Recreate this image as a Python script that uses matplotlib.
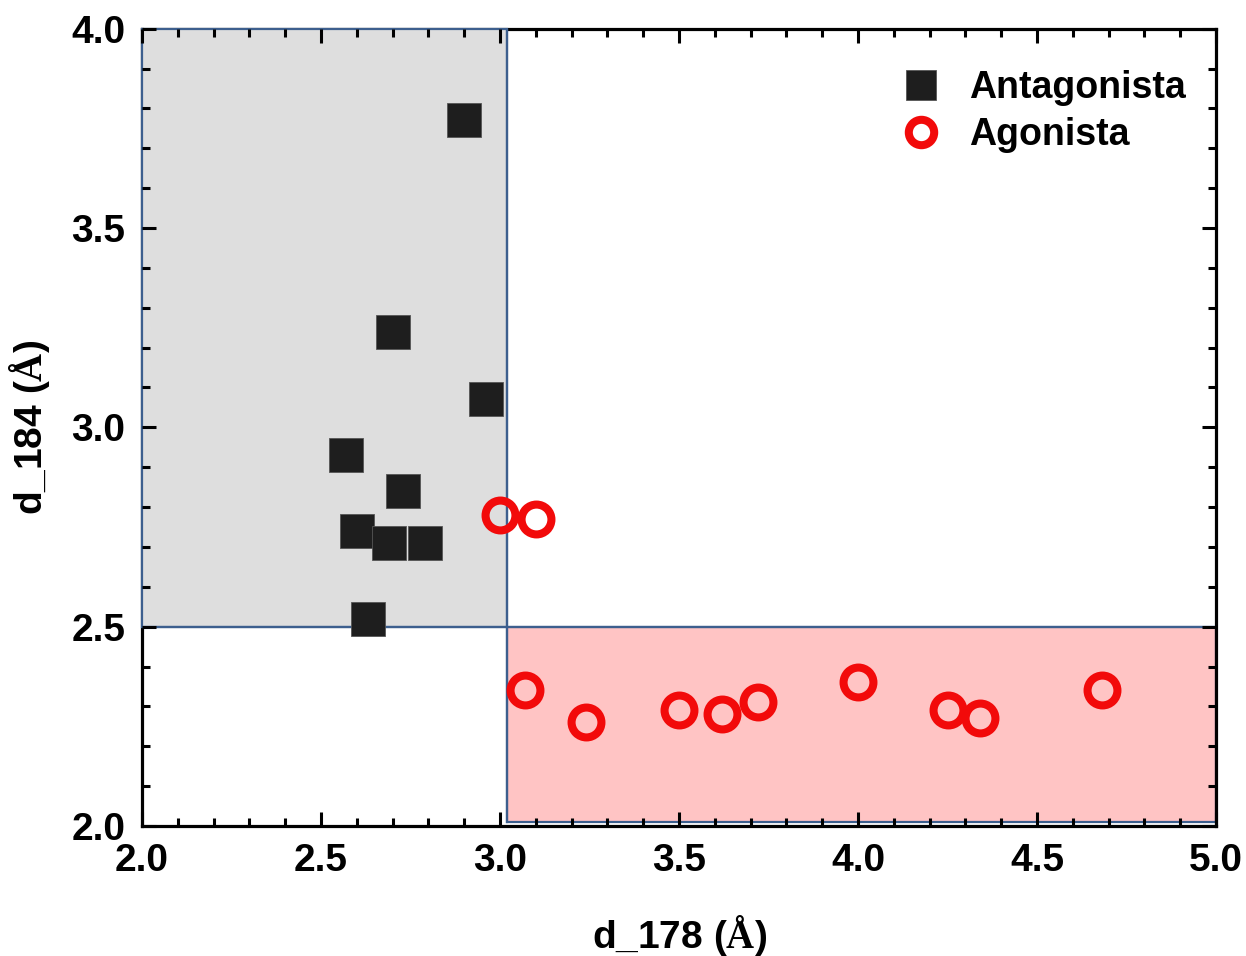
import matplotlib
matplotlib.use("Agg")
import matplotlib.pyplot as plt
from matplotlib.patches import Rectangle
from matplotlib.ticker import MultipleLocator

plt.rcParams['font.family'] = ['Liberation Sans', 'DejaVu Sans']
plt.rcParams['font.weight'] = 'bold'
plt.rcParams['mathtext.fontset'] = 'custom'
plt.rcParams['mathtext.bf'] = 'Liberation Serif:bold'
plt.rcParams['mathtext.rm'] = 'Liberation Serif'

# Antagonist ligands: distances d_178 and d_184 (Å)
antag_d178 = [2.90, 2.70, 2.96, 2.57, 2.73, 2.60, 2.69, 2.79, 2.63]
antag_d184 = [3.77, 3.24, 3.07, 2.93, 2.84, 2.74, 2.71, 2.71, 2.52]

# Agonist ligands
agon_d178 = [3.00, 3.10, 3.07, 3.24, 3.50, 3.62, 3.72, 4.00, 4.25, 4.34, 4.68]
agon_d184 = [2.78, 2.77, 2.34, 2.26, 2.29, 2.28, 2.31, 2.36, 2.29, 2.27, 2.34]

series_labels = ["Antagonista", "Agonista"]

fig = plt.figure(figsize=(12.46, 9.56), dpi=100)
ax = fig.add_axes([0.114, 0.136, 0.862, 0.834])

ax.set_xlim(2.0, 5.0)
ax.set_ylim(2.0, 4.0)

edge_blue = "#3d5f8e"
# Shaded regions
ax.add_patch(Rectangle((2.0, 2.5), 1.02, 1.5, facecolor="#dedede",
                       edgecolor=edge_blue, lw=1.6, zorder=0.5, clip_on=False))
ax.add_patch(Rectangle((3.02, 2.01), 1.98, 0.49, facecolor="#ffc4c4",
                       edgecolor=edge_blue, lw=1.6, zorder=0.5, clip_on=False))
ax.plot([2.0, 5.0], [2.5, 2.5], color=edge_blue, lw=1.6, zorder=0.6)
ax.plot([3.02, 3.02], [2.01, 4.0], color=edge_blue, lw=1.6, zorder=0.6)

ax.plot(antag_d178, antag_d184, linestyle="none", marker="s", ms=25,
        color="#1e1e1e", mec="#555555", mew=0.6, zorder=3, label=series_labels[0])
ax.plot(agon_d178, agon_d184, linestyle="none", marker="o", ms=21.5,
        mfc="none", mec="#f20a0a", mew=5.8, zorder=4, label=series_labels[1])

# Top/left spines sit beneath the blue outline of the grey region
for side in ["top", "left"]:
    ax.spines[side].set_zorder(0.4)
for side in ax.spines.values():
    side.set_linewidth(2.3)
    side.set_color("black")

ax.xaxis.set_major_locator(MultipleLocator(0.5))
ax.xaxis.set_minor_locator(MultipleLocator(0.1))
ax.yaxis.set_major_locator(MultipleLocator(0.5))
ax.yaxis.set_minor_locator(MultipleLocator(0.1))
ax.tick_params(which="both", direction="in", top=True, right=True, width=2.2)
ax.tick_params(which="major", length=10, labelsize=28, pad=12)
ax.tick_params(which="minor", length=5.5)
for lab in ax.get_xticklabels() + ax.get_yticklabels():
    lab.set_fontweight("bold")

ax.set_xlabel(r"d_178 ($\mathbf{Å}$)", fontsize=28, fontweight="bold", labelpad=25)
ax.set_ylabel(r"d_184 ($\mathbf{Å}$)", fontsize=28, fontweight="bold", labelpad=14)

leg = ax.legend(loc="upper right", bbox_to_anchor=(1.0, 0.986), frameon=False,
                prop={"weight": "bold", "size": 27}, handletextpad=0.8,
                handlelength=1.0, borderaxespad=0.4, labelspacing=0.3,
                markerscale=0.85)

fig.savefig("out.png", dpi=100)
